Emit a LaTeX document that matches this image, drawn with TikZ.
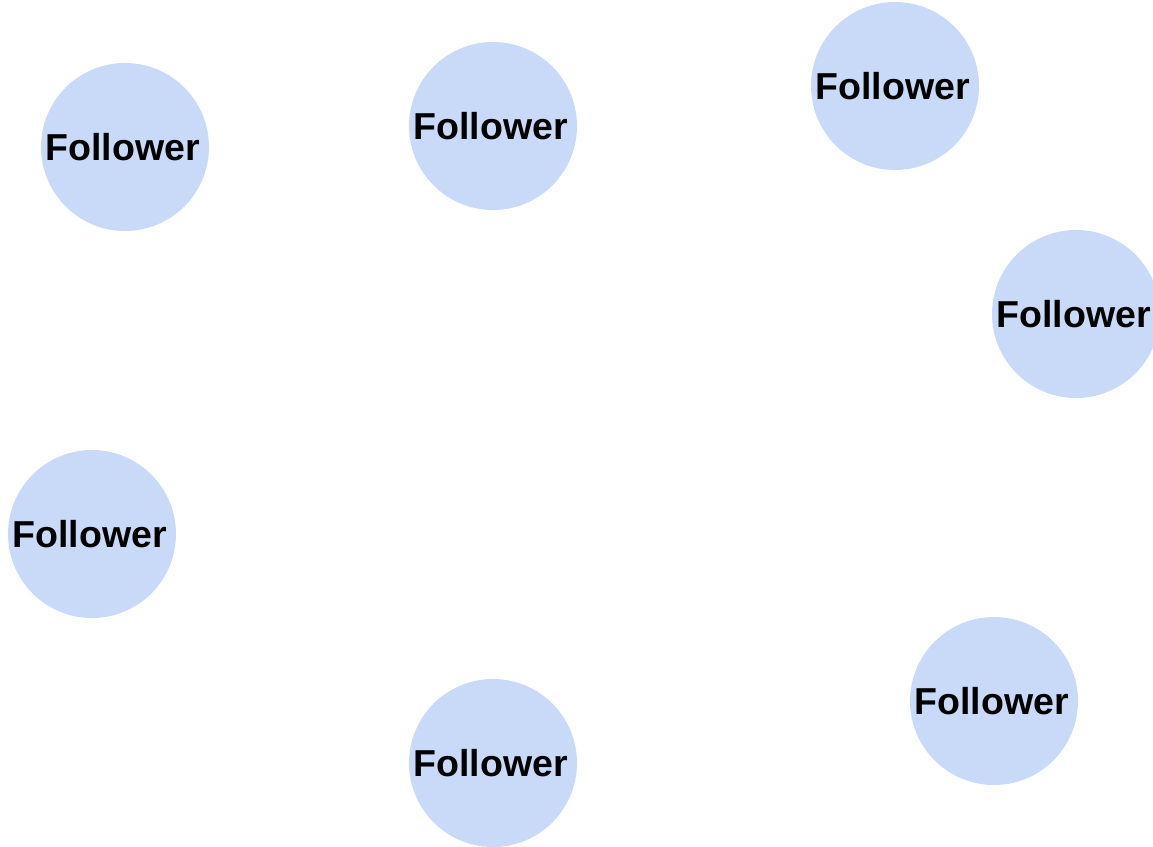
\documentclass[tikz,border=0pt]{standalone}
\usepackage{fontspec}
\setmainfont{Liberation Sans}
\definecolor{nodeblue}{HTML}{C9DAF8}
\begin{document}
\begin{tikzpicture}[x=1pt,y=-1pt,
  follower/.style={circle,fill=nodeblue,draw=none,minimum size=168pt,inner sep=0pt,
    font=\fontsize{37.5}{37.5}\selectfont\bfseries}]
\useasboundingbox (0,0) rectangle (1153,846);
\clip (0,0) rectangle (1153,846);
\newcommand{\flabel}{Follower\kern5pt}
\node[follower] (f1) at (125,147) {\flabel};
\node[follower] (f2) at (493,126) {\flabel};
\node[follower] (f3) at (895,86) {\flabel};
\node[follower] (f4) at (1076,314) {\flabel};
\node[follower] (f5) at (92,534) {\flabel};
\node[follower] (f6) at (493,763) {\flabel};
\node[follower] (f7) at (994,701) {\flabel};
\end{tikzpicture}
\end{document}
